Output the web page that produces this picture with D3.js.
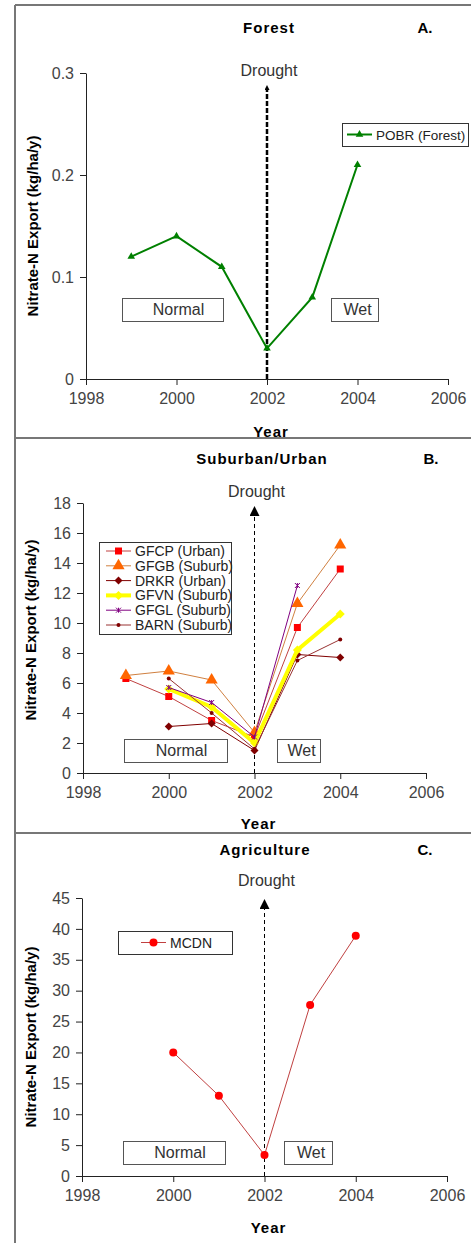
<!DOCTYPE html>
<html>
<head>
<meta charset="utf-8">
<script src="https://cdn.jsdelivr.net/npm/d3@7"></script>
<style>
  html, body { margin: 0; padding: 0; background: #fff; }
  svg { display: block; font-family: "Liberation Sans", Arial, sans-serif; }
</style>
</head>
<body>
<div id="chart"></div>
<script>
// ---- data -------------------------------------------------------------------
const years = [1999, 2000, 2001, 2002, 2003, 2004];
const xTicks = [1998, 2000, 2002, 2004, 2006];

// A. Forest
const pobr = [0.12, 0.14, 0.11, 0.03, 0.08, 0.21];
const yTicksA = [0, 0.1, 0.2, 0.3];

// B. Suburban / Urban (null = no sample)
const gfcp = [6.3, 5.1, 3.5, 2.4, 9.7, 13.6];
const gfgb = [6.5, 6.8, 6.2, 2.7, 11.3, 15.2];
const drkr = [null, 3.1, 3.3, 1.5, 7.9, 7.7];
const gfvn = [null, 5.6, 4.4, 2.0, 8.2, 10.6];
const gfgl = [null, 5.7, 4.7, 2.4, 12.5, null];
const barn = [null, 6.3, 4.0, 1.6, 7.5, 8.9];
const yTicksB = [0, 2, 4, 6, 8, 10, 12, 14, 16, 18];

// C. Agriculture
const mcdn = [null, 20, 13, 3.4, 27.7, 38.9];
const yTicksC = [0, 5, 10, 15, 20, 25, 30, 35, 40, 45];

// ---- page -------------------------------------------------------------------
const W = 471, H = 1243;
const svg = d3.select("#chart").append("svg")
    .attr("width", W).attr("height", H)
    .attr("viewBox", `0 0 ${W} ${H}`);

// arrowheads point along +x, so orient=auto turns them up the drought line
const defs = svg.append("defs");
[["arrowBig", 10, 10], ["arrowSmall", 6, 5]].forEach(([id, len, wid]) => {
    defs.append("marker")
        .attr("id", id)
        .attr("viewBox", "0 0 10 10").attr("refX", 2).attr("refY", 5)
        .attr("markerWidth", len).attr("markerHeight", wid)
        .attr("markerUnits", "userSpaceOnUse").attr("orient", "auto")
        .append("path").attr("d", "M0,0 L10,5 L0,10 Z").attr("fill", "#000");
});

// frame lines of the original figure
const frame = svg.append("g").attr("stroke", "#777").attr("stroke-width", 2);
frame.append("line").attr("x1", 15).attr("x2", 15).attr("y1", 5).attr("y2", H);
[5, 438, 833].forEach(y =>
    frame.append("line").attr("x1", 15).attr("x2", W).attr("y1", y).attr("y2", y));

// symbol helpers
function drawMarker(g, shape, cx, cy, size, color) {
    const s = size / 2;
    if (shape === "x") {
        g.append("path")
            .attr("d", `M${cx - s},${cy - s}L${cx + s},${cy + s}M${cx - s},${cy + s}L${cx + s},${cy - s}M${cx},${cy - s}L${cx},${cy + s}`)
            .attr("stroke", color).attr("stroke-width", 1).attr("fill", "none");
        return;
    }
    if (shape === "diamond") {
        g.append("path")
            .attr("d", `M${cx},${cy - s}L${cx + s},${cy}L${cx},${cy + s}L${cx - s},${cy}Z`)
            .attr("fill", color);
        return;
    }
    const types = { square: d3.symbolSquare, triangle: d3.symbolTriangle, circle: d3.symbolCircle };
    const area = shape === "circle" ? Math.PI * s * s : size * size;
    g.append("path")
        .attr("transform", `translate(${cx},${cy})`)
        .attr("d", d3.symbol(types[shape], area)())
        .attr("fill", color);
}

function drawPanel(cfg) {
    const g = svg.append("g");
    const x = d3.scaleLinear().domain([1998, 2006]).range([cfg.x0, cfg.x1]);
    const y = d3.scaleLinear().domain(cfg.yDomain).range([cfg.yBottom, cfg.yTop]);

    // axes
    const xa = g.append("g").attr("transform", `translate(0,${cfg.yBottom})`)
        .call(d3.axisBottom(x).tickValues(xTicks).tickFormat(d3.format("d"))
            .tickSizeInner(6).tickSizeOuter(0).tickPadding(8));
    const ya = g.append("g").attr("transform", `translate(${cfg.x0},0)`)
        .call(d3.axisLeft(y).tickValues(cfg.yTicks).tickFormat(cfg.yFormat)
            .tickSizeInner(6).tickSizeOuter(0).tickPadding(6));
    [xa, ya].forEach(a => {
        a.select(".domain").attr("stroke", "#222");
        a.selectAll(".tick line").attr("stroke", "#222");
        a.selectAll(".tick text").attr("fill", "#444")
            .style("font-size", "16px").style("font-family", "'Liberation Sans', Arial, sans-serif");
    });

    // titles
    g.append("text").attr("x", cfg.titleX).attr("y", cfg.titleY)
        .attr("text-anchor", "middle").style("font-size", "15px").style("font-weight", "bold")
        .style("letter-spacing", "1px").text(cfg.title);
    g.append("text").attr("x", cfg.tagX).attr("y", cfg.titleY)
        .attr("text-anchor", "middle").style("font-size", "15px").style("font-weight", "bold")
        .text(cfg.tag);
    g.append("text").attr("x", (cfg.x0 + cfg.x1) / 2 + 4).attr("y", cfg.yearY)
        .attr("text-anchor", "middle").style("font-size", "15px").style("font-weight", "bold")
        .style("letter-spacing", "1px").text("Year");
    g.append("text")
        .attr("transform", `translate(${cfg.ylabX},${(cfg.yTop + cfg.yBottom) / 2 + cfg.ylabDy}) rotate(-90)`)
        .attr("text-anchor", "middle").style("font-size", "15px").style("font-weight", "bold")
        .text("Nitrate-N Export (kg/ha/y)");

    // drought arrow
    const dx = x(2002);
    g.append("line").attr("x1", dx).attr("x2", dx)
        .attr("y1", cfg.yBottom).attr("y2", cfg.arrowTop + (cfg.bold ? 5 : 8))
        .attr("stroke", "#000").attr("stroke-width", cfg.bold ? 2.5 : 1)
        .attr("stroke-dasharray", cfg.bold ? "5,2" : "4,3")
        .attr("marker-end", cfg.bold ? "url(#arrowSmall)" : "url(#arrowBig)");
    g.append("text").attr("x", dx + 2).attr("y", cfg.droughtY)
        .attr("text-anchor", "middle").attr("fill", "#333").style("font-size", "16px")
        .text("Drought");

    // Normal / Wet boxes
    cfg.boxes.forEach(b => {
        g.append("rect").attr("x", b.x + 0.5).attr("y", cfg.boxY + 0.5)
            .attr("width", b.w).attr("height", 23)
            .attr("fill", "#fff").attr("stroke", "#555");
        g.append("text").attr("x", b.x + b.w / 2 + b.tdx).attr("y", cfg.boxY + 17)
            .attr("text-anchor", "middle").attr("fill", "#333").style("font-size", "16px")
            .text(b.label);
    });

    // series
    cfg.series.forEach(s => {
        const pts = years.map((yr, i) => ({ yr, v: s.values[i] })).filter(d => d.v != null);
        g.append("path").datum(pts)
            .attr("fill", "none").attr("stroke", s.line).attr("stroke-width", s.width)
            .attr("d", d3.line().x(d => x(d.yr)).y(d => y(d.v)));
        pts.forEach(d => drawMarker(g, s.shape, x(d.yr), y(d.v), s.size, s.fill));
    });

    // legend
    const L = cfg.legend;
    g.append("rect").attr("x", L.x + 0.5).attr("y", L.y + 0.5)
        .attr("width", L.w).attr("height", L.h)
        .attr("fill", "#fff").attr("stroke", "#333");
    cfg.series.forEach((s, i) => {
        const ly = L.y + L.first + i * L.step;
        g.append("line").attr("x1", L.x + L.lx0).attr("x2", L.x + L.lx0 + 25)
            .attr("y1", ly).attr("y2", ly).attr("stroke", s.line).attr("stroke-width", s.width);
        drawMarker(g, s.shape, L.x + L.lx0 + 12.5, ly, s.size, s.fill);
        g.append("text").attr("x", L.x + L.lx0 + 29).attr("y", ly + 5)
            .attr("fill", "#222").style("font-size", L.font + "px")
            .text(s.name);
    });
}

drawPanel({
    x0: 86, x1: 448, yTop: 73, yBottom: 379, yDomain: [0, 0.3],
    yTicks: yTicksA, yFormat: d3.format(".1~f"),
    title: "Forest", tag: "A.", titleX: 269, tagX: 425, titleY: 33, yearY: 437,
    ylabX: 38, ylabDy: 0, arrowTop: 84, droughtY: 76, bold: true,
    boxY: 298,
    boxes: [{ x: 122, w: 101, label: "Normal", tdx: 6 }, { x: 331, w: 47, label: "Wet", tdx: 3 }],
    legend: { x: 342, y: 123, w: 126, h: 23, first: 11.5, step: 0, lx0: 5, font: 13.5 },
    series: [{ name: "POBR (Forest)", values: pobr, line: "#008000", fill: "#008000",
        width: 2, shape: "triangle", size: 5 }]
});

drawPanel({
    x0: 83, x1: 426, yTop: 503, yBottom: 773, yDomain: [0, 18],
    yTicks: yTicksB, yFormat: d3.format("d"),
    title: "Suburban/Urban", tag: "B.", titleX: 262, tagX: 431, titleY: 464, yearY: 829,
    ylabX: 36, ylabDy: -8, arrowTop: 506, droughtY: 497, bold: false,
    boxY: 739,
    boxes: [{ x: 124, w: 103, label: "Normal", tdx: 6 }, { x: 277, w: 43, label: "Wet", tdx: 3 }],
    legend: { x: 99, y: 542, w: 132, h: 92, first: 9, step: 14.8, lx0: 7, font: 14 },
    series: [
        { name: "GFCP (Urban)", values: gfcp, line: "#c04040", fill: "#ff0000", width: 1, shape: "square", size: 7 },
        { name: "GFGB (Suburb)", values: gfgb, line: "#d08040", fill: "#ff6600", width: 1, shape: "triangle", size: 8 },
        { name: "DRKR (Urban)", values: drkr, line: "#800000", fill: "#800000", width: 1, shape: "diamond", size: 8 },
        { name: "GFVN (Suburb)", values: gfvn, line: "#ffff00", fill: "#ffff00", width: 4, shape: "diamond", size: 9 },
        { name: "GFGL (Suburb)", values: gfgl, line: "#800080", fill: "#800080", width: 1, shape: "x", size: 5 },
        { name: "BARN (Suburb)", values: barn, line: "#993333", fill: "#800000", width: 1, shape: "circle", size: 4 }
    ]
});

drawPanel({
    x0: 82, x1: 447, yTop: 898, yBottom: 1176, yDomain: [0, 45],
    yTicks: yTicksC, yFormat: d3.format("d"),
    title: "Agriculture", tag: "C.", titleX: 265, tagX: 425, titleY: 855, yearY: 1233,
    ylabX: 36, ylabDy: 0, arrowTop: 899, droughtY: 886, bold: false,
    boxY: 1141,
    boxes: [{ x: 123, w: 102, label: "Normal", tdx: 6 }, { x: 284, w: 48, label: "Wet", tdx: 3 }],
    legend: { x: 118, y: 931, w: 114, h: 23, first: 11.5, step: 0, lx0: 23, font: 14 },
    series: [{ name: "MCDN", values: mcdn, line: "#c04040", fill: "#ff0000",
        width: 1, shape: "circle", size: 8 }]
});
</script>
</body>
</html>
